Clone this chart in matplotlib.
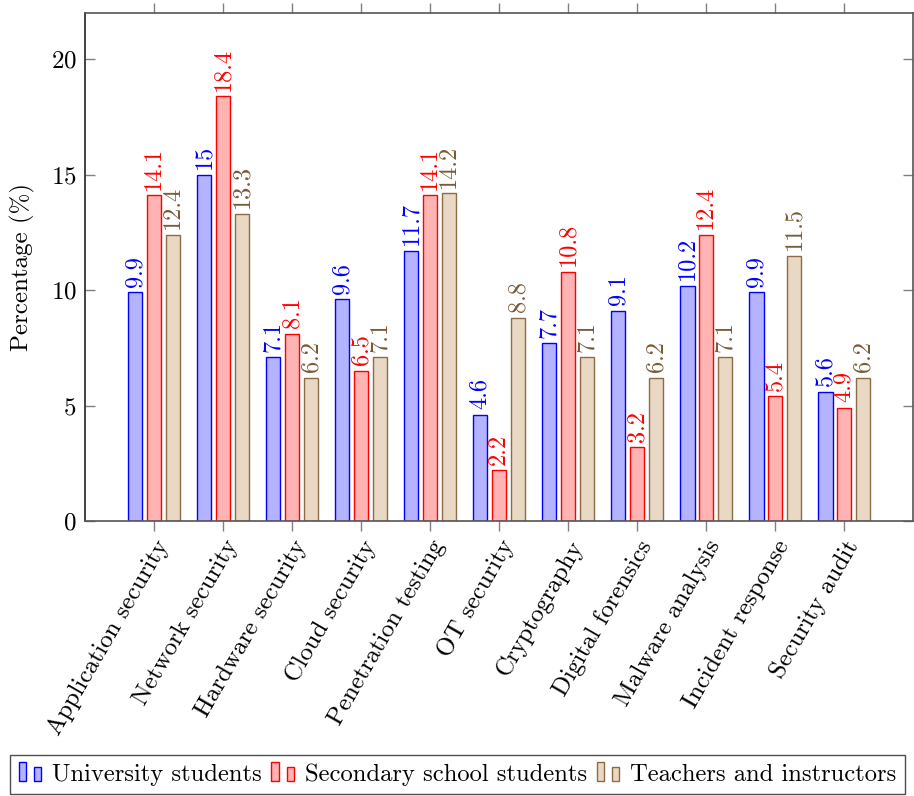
import matplotlib
matplotlib.use("Agg")
import matplotlib.pyplot as plt
import numpy as np
from matplotlib.patches import Rectangle
from matplotlib.legend_handler import HandlerBase

plt.rcParams['font.family'] = ['cmr10', 'DejaVu Serif']
plt.rcParams['mathtext.fontset'] = 'cm'
plt.rcParams['axes.formatter.use_mathtext'] = True

categories = ["Application security", "Network security", "Hardware security",
              "Cloud security", "Penetration testing", "OT security",
              "Cryptography", "Digital forensics", "Malware analysis",
              "Incident response", "Security audit"]
university = [9.9, 15, 7.1, 9.6, 11.7, 4.6, 7.7, 9.1, 10.2, 9.9, 5.6]
secondary = [14.1, 18.4, 8.1, 6.5, 14.1, 2.2, 10.8, 3.2, 12.4, 5.4, 4.9]
teachers = [12.4, 13.3, 6.2, 7.1, 14.2, 8.8, 7.1, 6.2, 7.1, 11.5, 6.2]
series_names = ["University students", "Secondary school students", "Teachers and instructors"]

edge_colors = ["#0000ff", "#ff0000", "#8c6b46"]
face_colors = ["#b3b3ff", "#ffb3b3", "#e9d8c3"]
label_colors = ["#0000ff", "#ff0000", "#7a5a35"]

fig = plt.figure(figsize=(9.14, 7.96), dpi=100)
ax = fig.add_axes([0.093, 0.3455, 0.906, 0.638])

x = np.arange(len(categories))
width = 0.215
offset = 0.275
fs = 18

for i, vals in enumerate([university, secondary, teachers]):
    pos = x + (i - 1) * offset
    ax.bar(pos, vals, width=width, color=face_colors[i], edgecolor=edge_colors[i],
           linewidth=1.0, zorder=2)
    for p, v in zip(pos, vals):
        ax.annotate(f"{v:g}", (p, v), xytext=(0, 4), textcoords="offset points",
                    rotation=90, ha="center", va="bottom", color=label_colors[i],
                    fontsize=17.5)

ax.set_xlim(-1, len(categories))
ax.set_ylim(0, 22)
ax.set_yticks([0, 5, 10, 15, 20])
ax.set_xticks(x)
ax.set_xticklabels(categories, rotation=60, ha="right", rotation_mode="anchor", fontsize=fs)
ax.tick_params(axis="y", labelsize=fs, direction="in", length=7, color="#808080",
               left=True, right=True, width=1.0, pad=6)
ax.tick_params(axis="x", direction="out", length=7, color="#808080",
               bottom=True, top=True, width=1.0, pad=4)
ax.set_ylabel("Percentage (%)", fontsize=fs, labelpad=11)

for side, col in [("left", "#222222"), ("top", "#555555"), ("bottom", "#555555"), ("right", "#555555")]:
    ax.spines[side].set_color(col)
    ax.spines[side].set_linewidth(1.2)


class TwoBarHandler(HandlerBase):
    def __init__(self, fc, ec):
        super().__init__()
        self.fc = fc
        self.ec = ec

    def create_artists(self, legend, orig_handle, xdescent, ydescent, width, height,
                       fontsize, trans):
        bw = width * 0.24
        arts = []
        for k, h in enumerate([1.0, 0.75]):
            r = Rectangle((-xdescent + k * width * 0.52, -ydescent), bw, height * h * 1.1,
                          facecolor=self.fc, edgecolor=self.ec, linewidth=1.0,
                          transform=trans)
            arts.append(r)
        return arts


handles = [Rectangle((0, 0), 1, 1) for _ in range(3)]
handler_map = {h: TwoBarHandler(face_colors[i], edge_colors[i]) for i, h in enumerate(handles)}
leg = fig.legend(handles, series_names, handler_map=handler_map, ncol=3,
                 loc="upper left", bbox_to_anchor=(0.011, 0.052), fontsize=17.7,
                 frameon=True, fancybox=False, edgecolor="#222222",
                 handlelength=1.2, handletextpad=0.15, columnspacing=0.4,
                 borderpad=0.35, borderaxespad=0)
leg.get_frame().set_linewidth(1.0)

fig.savefig("out.png", dpi=100)
